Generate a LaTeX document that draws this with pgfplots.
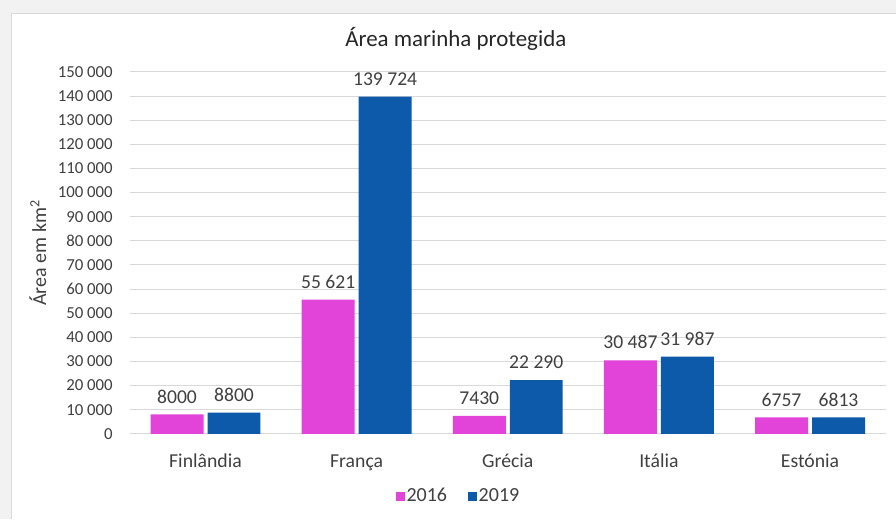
\documentclass[border=0pt]{standalone}
\usepackage{fontspec}
\setmainfont{Carlito}
\usepackage{pgfplots}
\pgfplotsset{compat=1.18}
\usepackage{pgfplotstable}
\definecolor{bgout}{HTML}{F2F2F2}
\definecolor{gridc}{HTML}{D9D9D9}
\definecolor{mag}{HTML}{E243D9}
\definecolor{blu}{HTML}{0C5AA9}
\definecolor{txt}{HTML}{404040}
\pgfplotstableread{
x y lab
0 8000 8000
1 55621 55~621
2 7430 7430
3 30487 30~487
4 6757 6757
}\datasixteen
\pgfplotstableread{
x y lab
0 8800 8800
1 139724 139~724
2 22290 22~290
3 31987 31~987
4 6813 6813
}\datanineteen
\begin{document}
\begin{tikzpicture}
\fill[bgout] (0,0) rectangle (672pt,389.25pt);
\fill[white] (8.25pt,0) rectangle (672pt,379.5pt);
\draw[gridc, line width=0.6pt] (8.25pt,0) -- (8.25pt,379.5pt) -- (672pt,379.5pt);
\node[anchor=base, font=\fontsize{17.2}{19}\selectfont, text=black!85] at (342pt,354pt) {Área marinha protegida};
\begin{axis}[
  at={(97.5pt,63.75pt)}, anchor=south west,
  scale only axis, width=567pt, height=271.5pt,
  ybar, bar width=39.75pt,
  xmin=-0.5, xmax=4.5, ymin=0, ymax=150000,
  xtick=data, xticklabels={Finlândia, França, Grécia, Itália, Estónia},
  ytick={0,10000,20000,30000,40000,50000,60000,70000,80000,90000,100000,110000,120000,130000,140000,150000},
  yticklabels={0,10~000,20~000,30~000,40~000,50~000,60~000,70~000,80~000,90~000,100~000,110~000,120~000,130~000,140~000,150~000},
  scaled y ticks=false,
  axis line style={draw=none},
  major tick length=0pt,
  ymajorgrids, grid style={gridc, line width=0.75pt},
  tick label style={text=txt},
  yticklabel style={anchor=east, inner sep=0pt, xshift=-12.75pt, font=\fontsize{12.6}{14}\selectfont},
  xticklabel style={anchor=base, inner sep=0pt, yshift=-25.5pt, font=\fontsize{14.8}{16}\selectfont},
  ylabel={Área em km\textsuperscript{2}},
  ylabel style={at={(axis description cs:-0.1217,0.5)}, anchor=center, font=\fontsize{15}{17}\selectfont, text=txt},
  nodes near coords,
  point meta=explicit symbolic,
  nodes near coords style={anchor=base, inner sep=0pt, yshift=8.5pt, font=\fontsize{14.7}{16}\selectfont, text=txt},
  legend style={at={(0.4347,-0.172)}, anchor=center, draw=none, fill=none, legend columns=2, font=\fontsize{15}{17}\selectfont, text=txt,
    nodes={inner xsep=1.5pt, inner ysep=1pt},
    /tikz/every even column/.append style={column sep=14pt}},
  legend image code/.code={\fill[#1] (0pt,-3.4pt) rectangle (6.75pt,3.4pt);},
]
\addplot[fill=mag, draw=none, bar shift=-21.375pt] table[x=x, y=y, meta=lab] {\datasixteen};
\addplot[fill=blu, draw=none, bar shift=21.375pt] table[x=x, y=y, meta=lab] {\datanineteen};
\legend{2016, 2019}
\end{axis}
\end{tikzpicture}
\end{document}
